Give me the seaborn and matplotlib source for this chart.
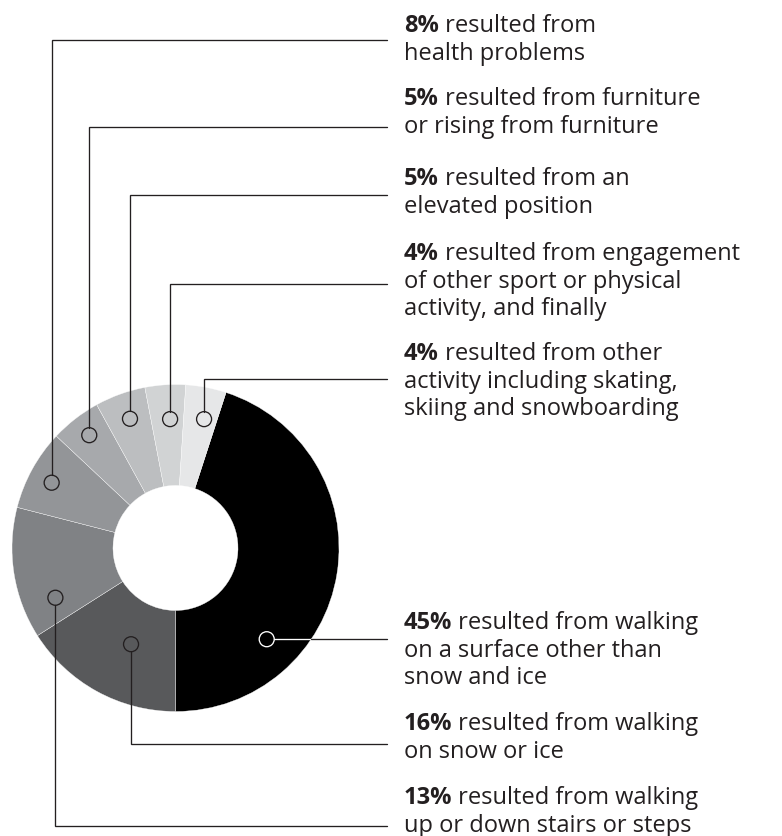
import numpy as np
import matplotlib
matplotlib.use("Agg")
import matplotlib.pyplot as plt
import seaborn as sns

# share of falls by cause, listed clockwise starting with the black slice
shares = [45, 16, 13, 8, 5, 5, 4, 4]
pct_labels = ["45%", "16%", "13%", "8%", "5%", "5%", "4%", "4%"]
captions = [
    ["resulted from walking", "on a surface other than", "snow and ice"],
    ["resulted from walking", "on snow or ice"],
    ["resulted from walking", "up or down stairs or steps"],
    ["resulted from", "health problems"],
    ["resulted from furniture", "or rising from furniture"],
    ["resulted from an", "elevated position"],
    ["resulted from engagement", "of other sport or physical", "activity, and finally"],
    ["resulted from other", "activity including skating,", "skiing and snowboarding"],
]
greys = ["#000000", "#58595b", "#808285", "#939598",
         "#a7a9ac", "#bcbec0", "#d1d3d4", "#e6e7e8"]

# layout (pixels, y down)
W, H = 782, 836
cx, cy = 175.5, 548
r_out, r_in = 163.5, 62.5
start_deg = 18  # black slice starts 18 deg clockwise from 12 o'clock
anchor_r = [129, 106, 130, 140, 142, 137, 129, 132]
anchor_shift = [36, -4, -13.5, -1, 0.4, 0.4, 1.2, 1.7]
leader_y = [None, 744, 826, 40, 127, 195, 284, 379]
text_y = [629, 730, 804, 32, 105, 185, 260, 360]
text_x, leader_end = 404, 387
line_gap = 27.6
ink = "#231f20"

sns.set_style("white")
plt.rcParams["font.family"] = ["Open Sans", "DejaVu Sans"]

fig = plt.figure(figsize=(W / 100, H / 100), dpi=100)
ax = fig.add_axes([0, 0, 1, 1])

ax.pie(shares, colors=sns.color_palette(greys), radius=r_out, center=(cx, cy),
       startangle=-(90 - start_deg), counterclock=True,
       wedgeprops=dict(width=r_out - r_in, edgecolor="white", linewidth=0.25))

ax.set_xlim(0, W)
ax.set_ylim(H, 0)
ax.set_aspect("equal")
ax.axis("off")

# callout markers + leader lines
spans = np.array(shares) * 3.6
mids = start_deg + np.cumsum(spans) - spans / 2
mr = 7.5
for i in range(len(shares)):
    th = np.radians(mids[i] + anchor_shift[i])
    mx = cx + anchor_r[i] * np.sin(th)
    my = cy - anchor_r[i] * np.cos(th)
    on_dark = greys[i] == "#000000"
    ax.add_patch(plt.Circle((mx, my), mr, fill=False, lw=0.95,
                            ec="white" if on_dark else ink, zorder=4))
    ly = leader_y[i]
    if ly is None:
        # straight out to the right, white while crossing the slice
        edge_x = cx + np.sqrt(r_out ** 2 - (my - cy) ** 2)
        ax.plot([mx + mr, edge_x], [my, my], color="white", lw=0.95, zorder=4)
        ax.plot([edge_x, leader_end], [my, my], color=ink, lw=0.95, zorder=4)
    else:
        y0 = my - mr if ly < my else my + mr
        ax.plot([mx, mx, leader_end], [y0, ly, ly], color=ink, lw=0.95,
                zorder=4, solid_joinstyle="miter")

# text blocks: bold share, then regular caption
fig.canvas.draw()
renderer = fig.canvas.get_renderer()
fs = 17
for i in range(len(shares)):
    b = ax.text(text_x, text_y[i], pct_labels[i], fontsize=fs, fontweight="bold",
                color=ink, ha="left", va="baseline")
    bw = b.get_window_extent(renderer).width
    for j, line in enumerate(captions[i]):
        if j == 0:
            ax.text(text_x + bw, text_y[i], " " + line, fontsize=fs, color=ink,
                    ha="left", va="baseline")
        else:
            ax.text(text_x, text_y[i] + j * line_gap, line, fontsize=fs,
                    color=ink, ha="left", va="baseline")

fig.savefig("out.png", dpi=100)
